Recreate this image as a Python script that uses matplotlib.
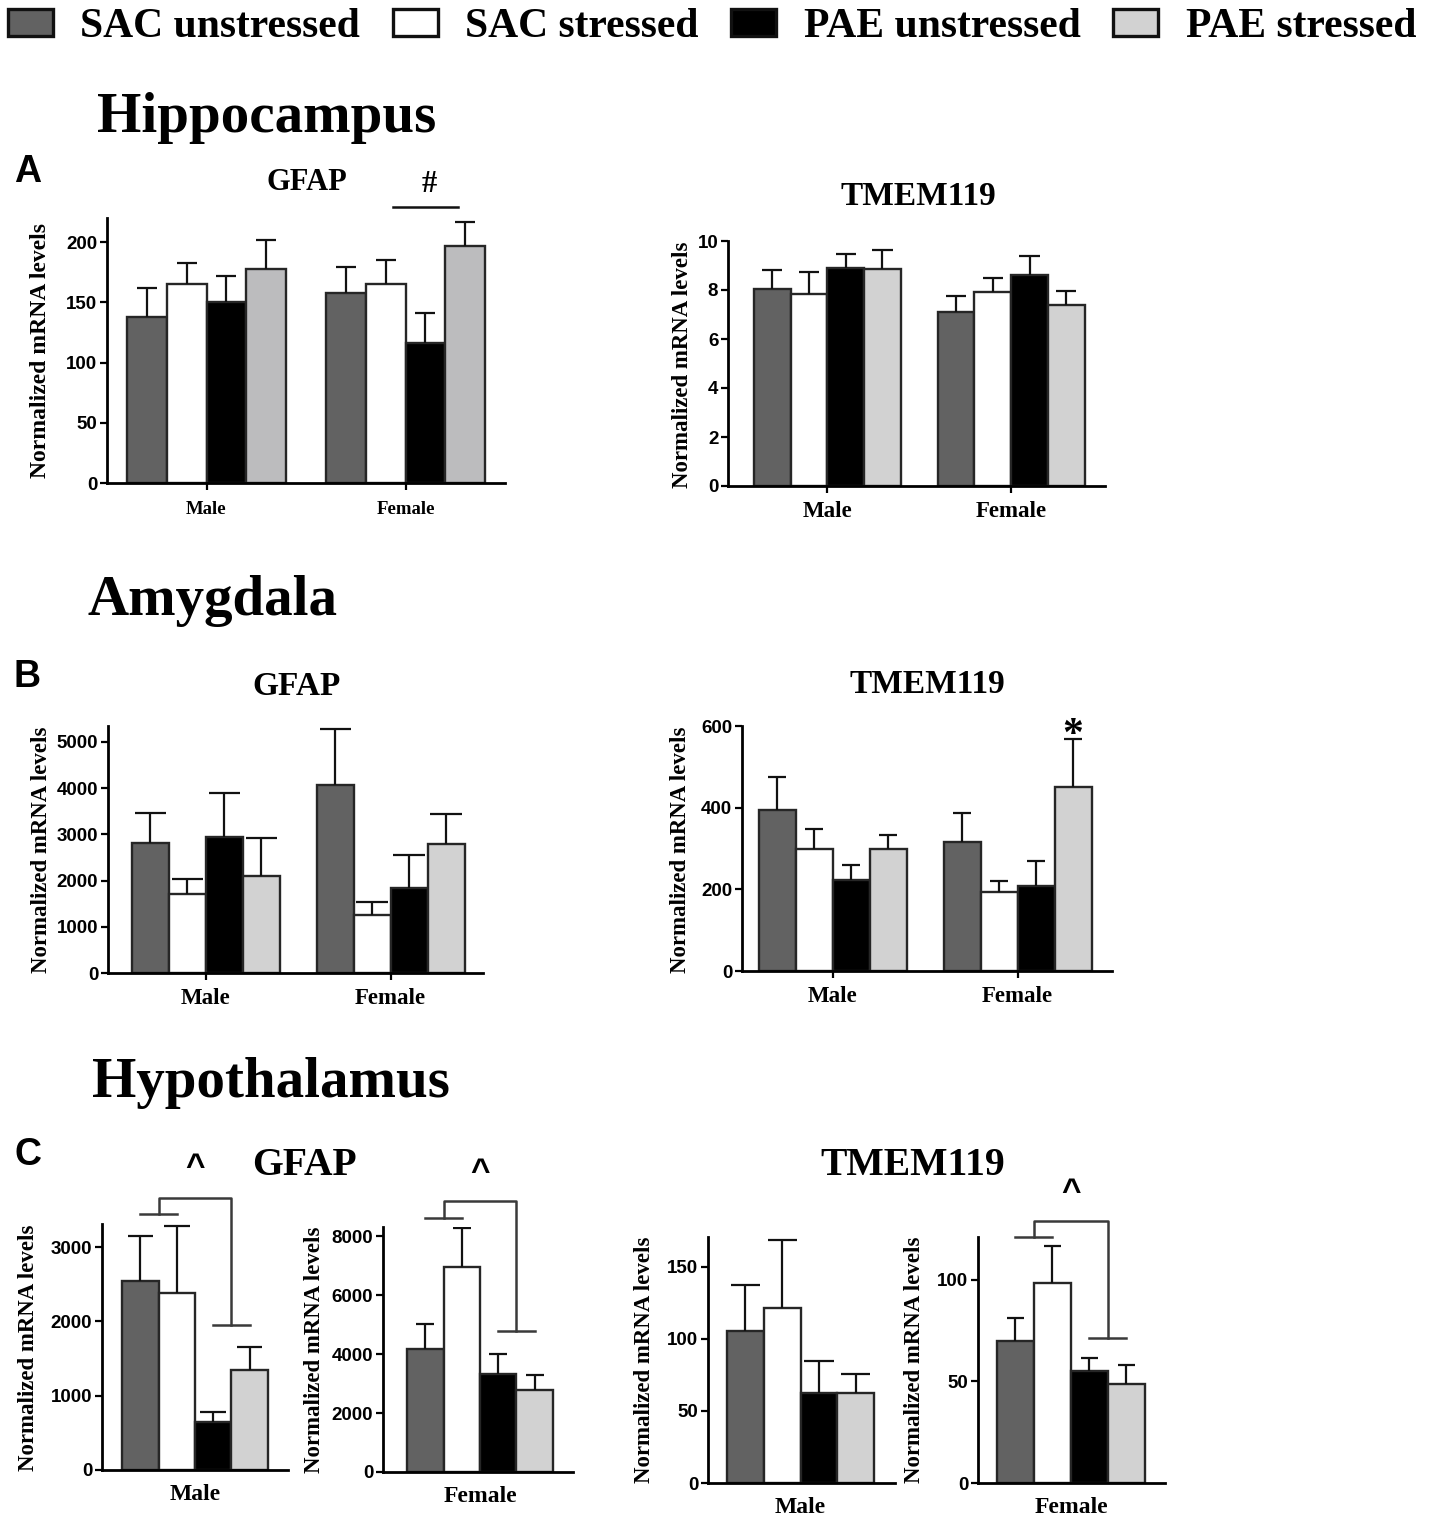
import numpy as np
import matplotlib
matplotlib.use("Agg")
import matplotlib.pyplot as plt
from matplotlib.patches import Patch

# groups and colours
groups = ['SAC unstressed', 'SAC stressed', 'PAE unstressed', 'PAE stressed']
sexes = ['Male', 'Female']

# hippocampus (A)
hip_gfap_mean = {'Male': [138, 165, 150, 178], 'Female': [158, 165, 116, 197]}
hip_gfap_sem = {'Male': [24, 18, 22, 24], 'Female': [21, 20, 25, 20]}
hip_tmem_mean = {'Male': [8.05, 7.85, 8.9, 8.85], 'Female': [7.1, 7.9, 8.6, 7.4]}
hip_tmem_sem = {'Male': [0.75, 0.9, 0.55, 0.8], 'Female': [0.65, 0.6, 0.8, 0.55]}

# amygdala (B)
amy_gfap_mean = {'Male': [2820, 1700, 2940, 2100], 'Female': [4060, 1250, 1850, 2785]}
amy_gfap_sem = {'Male': [650, 330, 960, 830], 'Female': [1230, 290, 700, 665]}
amy_tmem_mean = {'Male': [395, 298, 224, 300], 'Female': [316, 194, 208, 450]}
amy_tmem_sem = {'Male': [81, 49, 35, 34], 'Female': [70, 27, 61, 117]}

# hypothalamus (C)
hyp_gfap_mean = {'Male': [2537, 2380, 651, 1347], 'Female': [4186, 6957, 3337, 2794]}
hyp_gfap_sem = {'Male': [606, 898, 126, 305], 'Female': [825, 1323, 656, 486]}
hyp_tmem_mean = {'Male': [105.7, 121.6, 62.3, 62.8], 'Female': [69.9, 98.4, 55.2, 48.5]}
hyp_tmem_sem = {'Male': [31.6, 46.9, 22.6, 12.9], 'Female': [11.5, 18.4, 6.1, 9.5]}

W, H = 1429, 1525
fig = plt.figure(figsize=(W / 100, H / 100), dpi=100)

SERIF = 'Liberation Serif'
SANS = 'Liberation Sans'
fills = ['#626262', '#ffffff', '#000000', '#d2d2d2']
edge = '#262626'
YLAB = 'Normalized mRNA levels'


def fx(px):
    return px / W


def fy(py):
    return 1 - py / H


def add_ax(l, t, r, b):
    return fig.add_axes([fx(l), fy(b), (r - l) / W, (b - t) / H])


def style(ax, yticks, ylim, xlim):
    for s in ['top', 'right']:
        ax.spines[s].set_visible(False)
    for s in ['left', 'bottom']:
        ax.spines[s].set_linewidth(2.0)
    ax.set_ylim(*ylim)
    ax.set_xlim(*xlim)
    ax.set_yticks(yticks)
    ax.tick_params(axis='y', direction='out', length=5, width=1.6, pad=2)
    for lab in ax.get_yticklabels():
        lab.set_fontfamily(SANS)
        lab.set_fontweight('bold')
        lab.set_fontsize(13.5)


def bars(ax, x, means, sems, width, capfrac, light=None):
    cols = list(fills)
    if light:
        cols[3] = light
    means = np.array(means)
    tops = means + np.array(sems)
    ax.bar(x, means, width, color=cols, edgecolor=edge, linewidth=1.7, zorder=2)
    ax.vlines(x, means, tops, color='#111111', lw=1.6, zorder=3)
    ax.hlines(tops, x - capfrac * width / 2, x + capfrac * width / 2,
              color='#111111', lw=1.6, zorder=3)


def xlabels(ax, pos, labels, size, pad, ticks=True):
    ax.set_xticks(pos)
    ax.set_xticklabels(labels, fontfamily=SERIF, fontweight='bold', fontsize=size)
    ax.tick_params(axis='x', direction='out', length=5 if ticks else 0, width=1.6, pad=pad)


def ylabel(xc, yc, size=16.5):
    fig.text(fx(xc), fy(yc), YLAB, rotation=90, ha='center', va='center',
             fontfamily=SERIF, fontweight='bold', fontsize=size)


def title(xc, base, txt, size):
    fig.text(fx(xc), fy(base), txt, ha='center', va='baseline',
             fontfamily=SERIF, fontweight='bold', fontsize=size)


def grouped(ax, mean, sem, capfrac, light=None):
    w = 0.2
    for i, s in enumerate(sexes):
        x = i + (np.arange(4) - 1.5) * w
        bars(ax, x, mean[s], sem[s], w, capfrac, light)


def bracket(ax, y_left, y_top, y_right, y_caret, color='#3a3a3a'):
    kw = dict(color=color, lw=1.8, clip_on=False, zorder=4)
    ax.plot([0, 1], [y_left, y_left], **kw)
    ax.plot([2, 3], [y_right, y_right], **kw)
    ax.plot([0.5, 0.5, 2.5, 2.5], [y_left, y_top, y_top, y_right], **kw)
    ax.text(1.5, y_caret, '^', ha='center', va='center', fontfamily=SANS,
            fontweight='bold', fontsize=24, clip_on=False)


# legend
handles = [Patch(facecolor=c, edgecolor='#111111', linewidth=2.4) for c in fills]
fig.legend(handles, groups, loc='upper left', bbox_to_anchor=(fx(8), fy(8)),
           ncol=4, frameon=False, borderpad=0, borderaxespad=0,
           handlelength=1.08, handleheight=0.62, handletextpad=0.66,
           columnspacing=0.78, prop=dict(family=SERIF, weight='bold', size=30))

# section headings and panel letters
for txt, xl, base in [('Hippocampus', 97, 132), ('Amygdala', 88, 615),
                      ('Hypothalamus', 92, 1097)]:
    fig.text(fx(xl), fy(base), txt, ha='left', va='baseline',
             fontfamily=SERIF, fontweight='bold', fontsize=41)
for txt, base in [('A', 182), ('B', 687), ('C', 1165)]:
    fig.text(fx(14), fy(base), txt, ha='left', va='baseline',
             fontfamily=SANS, fontweight='bold', fontsize=27)

# ---- A: hippocampus
ax = add_ax(107, 218, 505, 483)
grouped(ax, hip_gfap_mean, hip_gfap_sem, 0.5, light='#bcbcbe')
style(ax, [0, 50, 100, 150, 200], (0, 220), (-0.5, 1.5))
xlabels(ax, [0, 1], sexes, 13.5, 8)
ax.plot([0.935, 1.265], [229, 229], color='#111111', lw=1.8, clip_on=False)
ax.text(1.12, 236, '#', ha='center', va='bottom', fontfamily=SERIF,
        fontweight='bold', fontsize=22)
ylabel(41, 351, 17)
title(307, 190, 'GFAP', 22)

ax = add_ax(728, 241, 1105, 486)
grouped(ax, hip_tmem_mean, hip_tmem_sem, 0.55)
style(ax, [0, 2, 4, 6, 8, 10], (0, 10), (-0.54, 1.51))
xlabels(ax, [0, 1], sexes, 16.5, 6)
ylabel(683, 365)
title(918, 205, 'TMEM119', 24)

# ---- B: amygdala
ax = add_ax(108, 726, 483, 973)
grouped(ax, amy_gfap_mean, amy_gfap_sem, 0.85)
style(ax, [0, 1000, 2000, 3000, 4000, 5000], (0, 5346), (-0.53, 1.5))
xlabels(ax, [0, 1], sexes, 16.5, 6)
ylabel(42, 850)
title(297, 695, 'GFAP', 24)

ax = add_ax(742, 726, 1112, 971)
grouped(ax, amy_tmem_mean, amy_tmem_sem, 0.5)
style(ax, [0, 200, 400, 600], (0, 600), (-0.49, 1.51))
xlabels(ax, [0, 1], sexes, 16.5, 6)
ax.text(1.3, 528, '*', ha='center', va='bottom', fontfamily=SERIF,
        fontweight='bold', fontsize=30)
ylabel(680, 850)
title(927, 693, 'TMEM119', 24)

# ---- C: hypothalamus
x4 = np.arange(4)

ax = add_ax(102, 1224, 288, 1470)
bars(ax, x4, hyp_gfap_mean['Male'], hyp_gfap_sem['Male'], 1.0, 0.7)
style(ax, [0, 1000, 2000, 3000], (0, 3310), (-1.05, 4.05))
xlabels(ax, [1.5], ['Male'], 17, 10, ticks=False)
bracket(ax, 3445, 3660, 1951, 4065)
ylabel(29, 1348)

ax = add_ax(383, 1227, 573, 1472)
bars(ax, x4, hyp_gfap_mean['Female'], hyp_gfap_sem['Female'], 1.0, 0.5)
style(ax, [0, 2000, 4000, 6000, 8000], (0, 8315), (-1.16, 4.05))
xlabels(ax, [1.5], ['Female'], 17, 10, ticks=False)
bracket(ax, 8622, 9199, 4786, 10150)
ylabel(314, 1350)
title(304, 1175, 'GFAP', 28.5)

ax = add_ax(708, 1237, 895, 1483)
bars(ax, x4, hyp_tmem_mean['Male'], hyp_tmem_sem['Male'], 1.0, 0.8)
style(ax, [0, 50, 100, 150], (0, 170.8), (-1.02, 4.07))
xlabels(ax, [1.5], ['Male'], 17, 10, ticks=False)
ylabel(645, 1360)

ax = add_ax(978, 1237, 1165, 1483)
bars(ax, x4, hyp_tmem_mean['Female'], hyp_tmem_sem['Female'], 1.0, 0.45)
style(ax, [0, 50, 100], (0, 121), (-1.01, 4.04))
xlabels(ax, [1.5], ['Female'], 17, 10, ticks=False)
bracket(ax, 121, 128.9, 71.3, 143)
ylabel(914, 1360)
title(913, 1175, 'TMEM119', 28.5)

fig.savefig('out.png', dpi=100)
